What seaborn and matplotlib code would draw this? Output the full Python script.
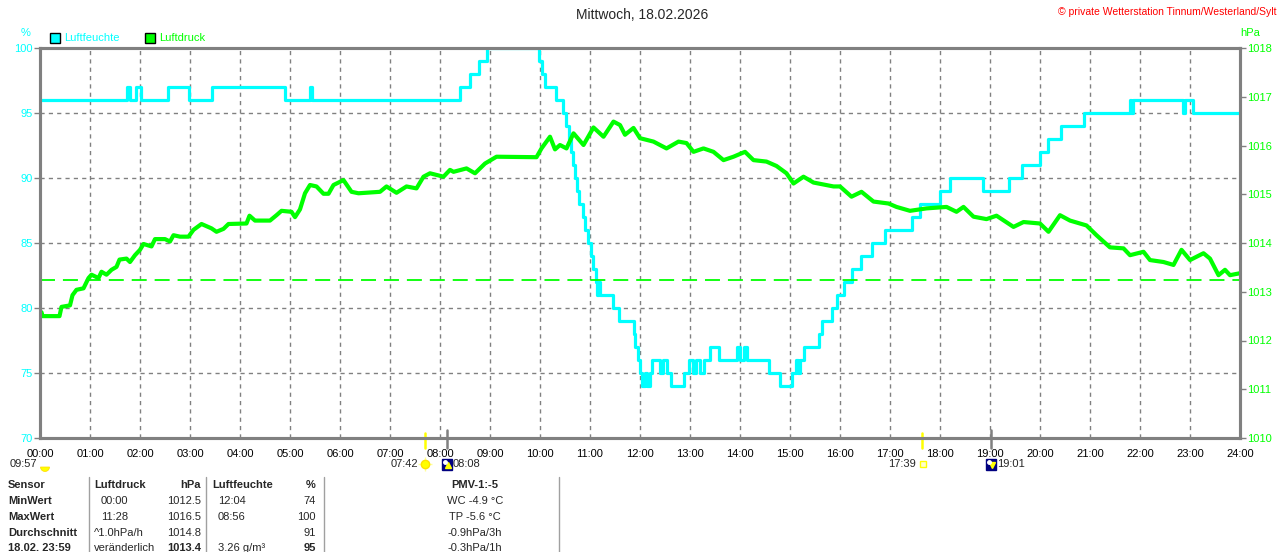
import matplotlib
matplotlib.use("Agg")
import matplotlib.pyplot as plt
import matplotlib.patches as mpatches
import matplotlib.transforms as mtransforms
import seaborn as sns

W, H = 1280, 552
CYAN = "#00FFFF"
GREEN = "#00FF00"
GRAY = "#808080"

# humidity (%) step changes: (hour of change, new value)
hum_steps = [
    (0.00, 96), (1.73, 97), (1.79, 96), (1.92, 97), (2.02, 96), (2.55, 97),
    (2.97, 96), (3.43, 97), (4.90, 96), (5.39, 97), (5.43, 96),
    (8.39, 97), (8.59, 98), (8.78, 99), (8.95, 100), (9.97, 99), (10.04, 98),
    (10.10, 97), (10.32, 96), (10.45, 95), (10.52, 94), (10.58, 93),
    (10.62, 92), (10.66, 91), (10.70, 90), (10.73, 89), (10.77, 88),
    (10.86, 87), (10.89, 86), (10.96, 85), (11.01, 84), (11.06, 83),
    (11.11, 82), (11.14, 81), (11.17, 82), (11.20, 81), (11.45, 80),
    (11.57, 79), (11.87, 78), (11.90, 77), (11.95, 76), (12.00, 75),
    (12.03, 74), (12.10, 75), (12.14, 74), (12.20, 75), (12.23, 76),
    (12.40, 75), (12.46, 76), (12.54, 75), (12.61, 74), (12.87, 75),
    (12.97, 76), (13.06, 75), (13.12, 76), (13.20, 75), (13.28, 76),
    (13.40, 77), (13.57, 76), (13.93, 77), (14.00, 76), (14.07, 77),
    (14.14, 76), (14.57, 75), (14.80, 74), (15.03, 75), (15.12, 76),
    (15.15, 75), (15.20, 76), (15.27, 77), (15.57, 78), (15.63, 79),
    (15.83, 80), (15.93, 81), (16.07, 82), (16.23, 83), (16.42, 84),
    (16.65, 85), (16.90, 86), (17.43, 87), (17.60, 88), (18.00, 89),
    (18.19, 90), (18.85, 89), (19.37, 90), (19.65, 91), (20.00, 92),
    (20.15, 93), (20.42, 94), (20.88, 95), (21.80, 96), (21.82, 95),
    (21.85, 96), (22.85, 95), (22.90, 96), (23.05, 95), (24.00, 95),
]
hum_hours = [t for t, _ in hum_steps]
hum_values = [v for _, v in hum_steps]

# air pressure (hPa): (hour, value)
press_points = [
    (0.00, 1012.52), (0.03, 1012.58), (0.05, 1012.50), (0.39, 1012.50),
    (0.43, 1012.69), (0.60, 1012.72), (0.65, 1012.93), (0.73, 1013.04),
    (0.87, 1013.07), (0.97, 1013.28), (1.03, 1013.35), (1.17, 1013.28),
    (1.23, 1013.41), (1.33, 1013.35), (1.43, 1013.45), (1.53, 1013.51),
    (1.59, 1013.66), (1.73, 1013.68), (1.80, 1013.61), (1.90, 1013.75),
    (2.00, 1013.86), (2.07, 1013.98), (2.23, 1013.93), (2.30, 1014.08),
    (2.50, 1014.08), (2.60, 1014.03), (2.67, 1014.16), (2.80, 1014.13),
    (2.97, 1014.13), (3.07, 1014.27), (3.23, 1014.39), (3.43, 1014.30),
    (3.53, 1014.23), (3.67, 1014.29), (3.77, 1014.39), (4.13, 1014.40),
    (4.19, 1014.56), (4.30, 1014.46), (4.60, 1014.46), (4.73, 1014.57),
    (4.83, 1014.66), (5.03, 1014.64), (5.10, 1014.53), (5.20, 1014.69),
    (5.30, 1015.02), (5.40, 1015.19), (5.53, 1015.16), (5.67, 1015.01),
    (5.77, 1015.01), (5.87, 1015.19), (6.07, 1015.29), (6.23, 1015.05),
    (6.37, 1015.02), (6.80, 1015.05), (6.93, 1015.16), (7.13, 1015.03),
    (7.33, 1015.16), (7.53, 1015.12), (7.67, 1015.36), (7.80, 1015.43),
    (8.07, 1015.36), (8.20, 1015.50), (8.27, 1015.46), (8.53, 1015.53),
    (8.70, 1015.43), (8.90, 1015.63), (9.13, 1015.77), (9.93, 1015.76),
    (10.03, 1015.94), (10.20, 1016.18), (10.30, 1015.92), (10.40, 1016.01),
    (10.53, 1015.94), (10.67, 1016.25), (10.87, 1016.01), (11.07, 1016.37),
    (11.27, 1016.18), (11.47, 1016.49), (11.60, 1016.42), (11.70, 1016.22),
    (11.87, 1016.36), (12.00, 1016.15), (12.27, 1016.08), (12.53, 1015.94),
    (12.77, 1016.08), (12.93, 1016.05), (13.07, 1015.87), (13.27, 1015.94),
    (13.47, 1015.87), (13.67, 1015.70), (13.87, 1015.77), (14.10, 1015.87),
    (14.27, 1015.70), (14.53, 1015.67), (14.73, 1015.58), (14.93, 1015.43),
    (15.07, 1015.22), (15.27, 1015.36), (15.47, 1015.24), (15.87, 1015.16),
    (16.00, 1015.16), (16.23, 1014.95), (16.43, 1015.05), (16.67, 1014.85),
    (16.97, 1014.81), (17.13, 1014.74), (17.40, 1014.66), (17.73, 1014.71),
    (18.13, 1014.74), (18.33, 1014.64), (18.47, 1014.74), (18.67, 1014.54),
    (18.93, 1014.49), (19.13, 1014.56), (19.47, 1014.33), (19.67, 1014.43),
    (20.00, 1014.40), (20.17, 1014.23), (20.40, 1014.57), (20.60, 1014.46),
    (20.93, 1014.36), (21.13, 1014.16), (21.40, 1013.91), (21.67, 1013.89),
    (21.80, 1013.75), (22.07, 1013.82), (22.20, 1013.65), (22.47, 1013.61),
    (22.67, 1013.55), (22.83, 1013.86), (23.00, 1013.65), (23.27, 1013.79),
    (23.40, 1013.68), (23.57, 1013.34), (23.70, 1013.45), (23.80, 1013.34),
    (24.00, 1013.38),
]
press_hours = [t for t, _ in press_points]
press_values = [v for _, v in press_points]

norm_pressure = 1013.25
hour_labels = [f"{h:02d}:00" for h in range(25)]
hum_ticks = [70, 75, 80, 85, 90, 95, 100]
press_ticks = [1010, 1011, 1012, 1013, 1014, 1015, 1016, 1017, 1018]

# sun / moon events (hours)
sunrise, sunset = 7.70, 17.65
moonrise, moonset = 8.133, 19.017

# table below the chart
tab_labels = ["Sensor", "MinWert", "MaxWert", "Durchschnitt", "18.02. 23:59"]
tab_press_time = ["Luftdruck", "00:00", "11:28", "^1.0hPa/h", "veränderlich"]
tab_press_val = ["hPa", "1012.5", "1016.5", "1014.8", "1013.4"]
tab_hum_time = ["Luftfeuchte", "12:04", "08:56", "", "3.26 g/m³"]
tab_hum_val = ["%", "74", "100", "91", "95"]
tab_extra = ["PMV-1:-5", "WC -4.9 °C", "TP -5.6 °C", "-0.9hPa/3h", "-0.3hPa/1h"]

sns.set_theme(style="white")
plt.rcParams["font.family"] = ["Liberation Sans", "DejaVu Sans"]

fig = plt.figure(figsize=(W / 100, H / 100), dpi=100)
fig.patch.set_facecolor("white")
ax = fig.add_axes([40 / W, 114 / H, 1200 / W, 390 / H])

sns.lineplot(x=hum_hours, y=hum_values, ax=ax, color=CYAN, linewidth=2.3,
             drawstyle="steps-post", estimator=None, sort=False, zorder=3)
ax.set_xlim(0, 24)
ax.set_ylim(70, 100)
ax.set_xticks(range(25))
ax.set_xticklabels(hour_labels)
ax.set_yticks(hum_ticks)
ax.grid(True, color=GRAY, linestyle=(0, (3, 3)), linewidth=1)
ax.set_xlabel("")
ax.set_ylabel("")
ax.tick_params(axis="x", length=0, pad=8, labelsize=8, labelcolor="black")
ax.tick_params(axis="y", length=4, width=1, color=GRAY, pad=1,
               labelsize=8, labelcolor=CYAN, left=True)

ax2 = ax.twinx()
sns.lineplot(x=press_hours, y=press_values, ax=ax2, color=GREEN, linewidth=3.0,
             estimator=None, sort=False)
ax2.axhline(norm_pressure, color=GREEN, linewidth=1.3, linestyle=(0, (8.3, 4.4)))
ax2.set_ylim(1010, 1018)
ax2.set_yticks(press_ticks)
ax2.set_ylabel("")
ax2.tick_params(axis="y", length=4, width=1, color=GRAY, pad=1,
                labelsize=8, labelcolor=GREEN, right=True)

for a in (ax, ax2):
    for sp in a.spines.values():
        sp.set_color(GRAY)
        sp.set_linewidth(2.2)

# sun / moon ticks on the time axis
trans = mtransforms.blended_transform_factory(ax.transData, ax.transAxes)
for t in (sunrise, sunset):
    ax.plot([t, t], [-0.025, 0.013], color="#FFFF00", lw=1.8, transform=trans,
            clip_on=False, zorder=5)
for t in (moonrise, moonset):
    ax.plot([t, t], [-0.025, 0.02], color=GRAY, lw=1.8, transform=trans,
            clip_on=False, zorder=5)

# overlay in pixel coordinates for texts and icons
ov = fig.add_axes([0, 0, 1, 1], zorder=10)
ov.set_xlim(0, W)
ov.set_ylim(H, 0)
ov.axis("off")
ov.patch.set_visible(False)

ov.text(642, 15, "Mittwoch, 18.02.2026", fontsize=10, ha="center", va="center")
ov.text(1277, 12, "© private Wetterstation Tinnum/Westerland/Sylt", fontsize=7.5,
        color="#FF0000", ha="right", va="center")
ov.text(26, 33, "%", fontsize=8, color=CYAN, ha="center", va="center")
ov.text(1250, 33, "hPa", fontsize=8, color=GREEN, ha="center", va="center")

# legend
for x0, col, name in ((50, CYAN, "Luftfeuchte"), (145, GREEN, "Luftdruck")):
    ov.add_patch(mpatches.Rectangle((x0, 33), 10, 10, facecolor=col,
                                    edgecolor="black", lw=1))
    ov.text(x0 + 14, 38, name, fontsize=8, color=col, ha="left", va="center")

# sun / moon row
ry = 464
ov.text(10, ry, "09:57", fontsize=8, ha="left", va="center")
ov.add_patch(mpatches.Wedge((45, ry + 3), 4.5, 0, 180, facecolor="#FFFF00",
                            edgecolor="#FFD700", lw=0.5))
ov.text(418, ry, "07:42", fontsize=8, ha="right", va="center")
ov.plot([425], [ry], marker="o", ms=6, color="#FFFF00", mec="#FFE000")
ov.plot([425], [ry], marker="+", ms=10, color="#FFFF99", mew=1, zorder=1)
ov.text(916, ry, "17:39", fontsize=8, ha="right", va="center")
ov.add_patch(mpatches.Rectangle((920, ry - 3), 6, 6, facecolor="#FFFFCC",
                                edgecolor="#FFFF00", lw=1))
for mx, label, arrow in ((442, "08:08", "^"), (986, "19:01", "v")):
    ov.add_patch(mpatches.Rectangle((mx, ry - 5), 10, 11, facecolor="#000080",
                                    edgecolor="#000080"))
    ov.plot([mx + 6], [ry + 1], marker=arrow, ms=4, color="#FFFF00")
    ov.plot([mx + 2.5], [ry - 2.5], marker="o", ms=2.5, color="white")
    ov.text(mx + 11, ry, label, fontsize=8, ha="left", va="center")

# table
rows_y = [485, 501, 517, 533, 548]
for x in (88.5, 206, 324, 559):
    ov.plot([x, x], [477, H], color="#A0A0A0", lw=1)
for i, y in enumerate(rows_y):
    head = i == 0
    ov.text(8, y, tab_labels[i], fontsize=8, weight="bold", ha="left", va="center")
    ov.text(101 if 0 < i < 3 else 94, y, tab_press_time[i], fontsize=8,
            weight="bold" if head else "normal", ha="left", va="center")
    ov.text(201, y, tab_press_val[i], fontsize=8,
            weight="bold" if head or i == 4 else "normal", ha="right", va="center")
    ov.text(218 if i else 212, y, tab_hum_time[i], fontsize=8,
            weight="bold" if head else "normal", ha="left", va="center")
    ov.text(316, y, tab_hum_val[i], fontsize=8,
            weight="bold" if head or i == 4 else "normal", ha="right", va="center")
    ov.text(475, y, tab_extra[i], fontsize=8,
            weight="bold" if head else "normal", ha="center", va="center")

fig.savefig("out.png", dpi=100)
